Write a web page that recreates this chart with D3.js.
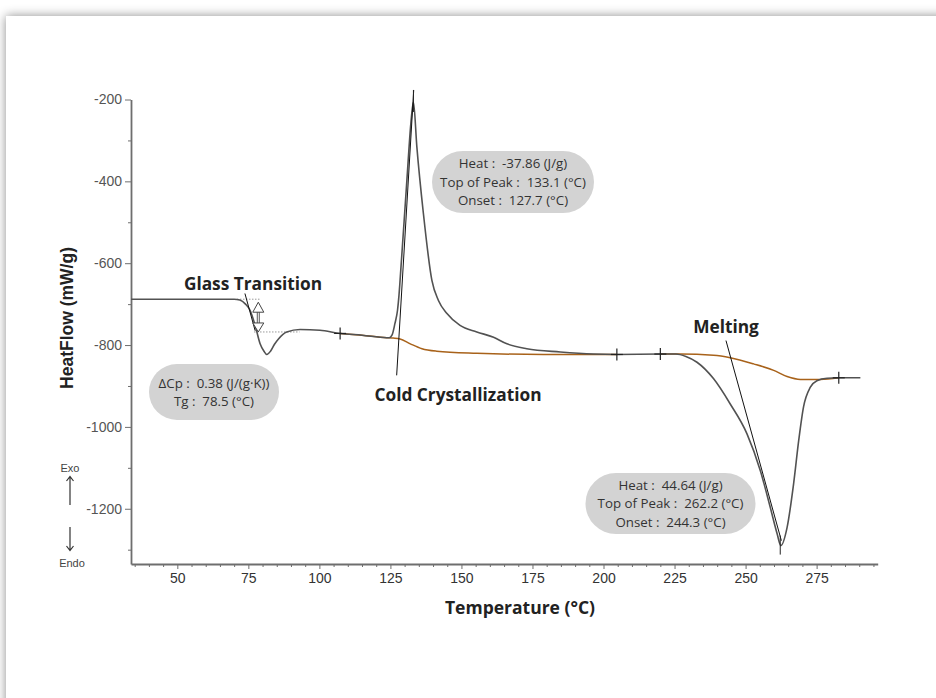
<!DOCTYPE html>
<html lang="en">
<head>
<meta charset="utf-8">
<title>DSC</title>
<script src="https://d3js.org/d3.v7.min.js"></script>
<style>
  body { margin: 0; background: #fff; overflow: hidden; }
  #card {
    position: absolute; left: 6px; top: 16px; width: 960px; height: 720px;
    background: #fff; box-shadow: 0 0 10px rgba(0, 0, 0, 0.45);
  }
  #chart { position: absolute; left: 0; top: 0; }
  .tick text { font-family: "Liberation Sans", Arial, sans-serif; font-size: 14px; }
  .note { font-family: "Open Sans", sans-serif; font-size: 13.3px; fill: #333; text-anchor: middle; white-space: pre; }
  .label { font-family: "Open Sans", sans-serif; font-size: 17.3px; font-weight: bold; fill: #222; text-anchor: middle; }
</style>
</head>
<body>
<div id="card"></div>
<div id="chart"></div>
<script>
// main DSC curve (temperature in °C, heat flow in mW/g)
const temps = [33.7, 60, 70, 72, 74, 75.6, 77.4, 79.1, 80.5, 81.5, 82.8, 84.2, 85.6, 88.5, 93.2, 100.2,
  107.3, 115, 123.7, 124.6, 125.6, 126.6, 127.5, 128, 128.4, 130.8, 132.2, 133.1, 134.3, 136.6, 139.6,
  141.9, 144.9, 149.5, 155.4, 161.3, 166, 173, 184.8, 196.5, 204.7, 220, 225.5, 229, 232.9, 238.7,
  244.6, 250.5, 255.2, 258.7, 261.1, 262.4, 264.6, 266.9, 268.7, 270.4, 272.8, 275.1, 278.7, 282.8, 290.4];
const heatFlow = [-688, -688, -688, -690, -700, -715, -752, -796, -815, -823, -815, -798, -785, -768, -762, -764,
  -771.6, -776, -782, -782, -775, -747, -715, -680, -642, -397, -258, -206, -315, -478, -642,
  -691, -723, -752, -768, -781, -797, -809, -817, -822, -823, -822, -822, -828, -842, -882,
  -944, -1017, -1107, -1197, -1261, -1290, -1246, -1139, -1033, -951, -903, -887, -881, -880, -880];

// integration baselines
const ccBaseT = [107.3, 115, 123.7, 126, 128.4, 132, 136.1, 141.3, 155.4, 178.9, 196.5, 204.7];
const ccBaseHF = [-771.6, -776, -782, -783, -785, -797, -809, -815, -820, -823, -823, -823];
const meltBaseT = [220, 227, 238.7, 244.6, 252.8, 259.9, 264.6, 269.3, 276.3, 282.8];
const meltBaseHF = [-822, -822, -825, -831, -846, -862, -877, -884, -884, -880];

// onset tangents [T, HF]
const ccTangent = [[127.2, -874], [133.2, -177]];
const meltTangent = [[243.1, -789], [262.6, -1278]];
const tgPointer = [[73.8, -674], [77.4, -765]];

// glass transition step
const tgTemp = 78.5;
const tgUpper = -688;
const tgLower = -768;
const tgUpperDots = [71, 79];
const tgLowerDots = [77, 93];

// range markers and peak tops
const rangeMarks = [107.3, 204.7, 220, 282.8];
const peakTops = [[133.1, -206], [262.2, -1290]];

const yMajor = [-200, -400, -600, -800, -1000, -1200];
const yMinor = [-300, -500, -700, -900, -1100, -1300];
const xMajor = [50, 75, 100, 125, 150, 175, 200, 225, 250, 275];
const xMinor = d3.range(35, 300, 5).filter(v => v % 25 !== 0);

const ccNote = ["Heat :  -37.86 (J/g)", "Top of Peak :  133.1 (°C)", "Onset :  127.7 (°C)"];
const meltNote = ["Heat :  44.64 (J/g)", "Top of Peak :  262.2 (°C)", "Onset :  244.3 (°C)"];
const tgNote = ["ΔCp :  0.38 (J/(g·K))", "Tg :  78.5 (°C)"];

const width = 936, height = 698;
const svg = d3.select("#chart").append("svg")
  .attr("width", width).attr("height", height);

const x = d3.scaleLinear().domain([33.7, 296.5]).range([131, 877.7]);
const y = d3.scaleLinear().domain([-1335, -200]).range([564, 99.5]);

const axisColor = "#6e6e6e";

// y axis
const gy = svg.append("g").attr("transform", "translate(131,0)")
  .call(d3.axisLeft(y).tickValues(yMajor).tickSize(6).tickSizeOuter(0).tickPadding(3).tickFormat(d => String(d)));
svg.append("g").attr("transform", "translate(131,0)")
  .call(d3.axisLeft(y).tickValues(yMinor).tickSize(3).tickSizeOuter(0).tickFormat(""))
  .select(".domain").remove();
gy.select(".domain").attr("stroke", axisColor).attr("stroke-width", 1.8);
svg.selectAll(".tick line").attr("stroke", axisColor);
gy.selectAll(".tick text").attr("fill", "#555");

// x axis
const gx = svg.append("g").attr("transform", "translate(0,564)")
  .call(d3.axisBottom(x).tickValues(xMajor).tickSize(5).tickSizeOuter(0).tickPadding(4));
const gxm = svg.append("g").attr("transform", "translate(0,564)")
  .call(d3.axisBottom(x).tickValues(xMinor).tickSize(3).tickSizeOuter(0).tickFormat(""));
gxm.select(".domain").remove();
gx.select(".domain").attr("stroke", axisColor).attr("stroke-width", 1.8);
svg.selectAll(".tick line").attr("stroke", axisColor);
gx.selectAll(".tick text").attr("fill", "#333");

// axis titles
svg.append("text")
  .attr("transform", "translate(73,318) rotate(-90)")
  .attr("text-anchor", "middle")
  .style("font-family", "'Liberation Sans', Arial, sans-serif")
  .style("font-weight", "bold").style("font-size", "17.5px").attr("fill", "#222")
  .text("HeatFlow (mW/g)");
svg.append("text").attr("class", "label")
  .attr("x", 520).attr("y", 614).style("font-size", "17.5px")
  .text("Temperature (°C)");

// Exo / Endo
svg.append("text").attr("x", 70).attr("y", 472).attr("text-anchor", "middle")
  .style("font-family", "'Liberation Sans', Arial, sans-serif").style("font-size", "11px").attr("fill", "#444")
  .text("Exo");
svg.append("text").attr("x", 72).attr("y", 567).attr("text-anchor", "middle")
  .style("font-family", "'Liberation Sans', Arial, sans-serif").style("font-size", "11px").attr("fill", "#444")
  .text("Endo");
svg.append("path").attr("d", "M70,505V477M66.5,481L70,476.5L73.5,481M70,527V550M66.5,546L70,550.5L73.5,546")
  .attr("fill", "none").attr("stroke", "#333").attr("stroke-width", 1.2);

const line = d3.line().x(d => x(d[0])).y(d => y(d[1])).curve(d3.curveMonotoneX);

// dotted step extensions
svg.append("g").selectAll("line")
  .data([[tgUpperDots, tgUpper], [tgLowerDots, tgLower]])
  .join("line")
  .attr("x1", d => x(d[0][0])).attr("x2", d => x(d[0][1]))
  .attr("y1", d => y(d[1])).attr("y2", d => y(d[1]))
  .attr("stroke", "#999").attr("stroke-width", 1).attr("stroke-dasharray", "1.5,1.5");

// baselines
svg.append("path").datum(ccBaseT.map((t, i) => [t, ccBaseHF[i]]))
  .attr("d", line).attr("fill", "none").attr("stroke", "#a8621a").attr("stroke-width", 1.5);
svg.append("path").datum(meltBaseT.map((t, i) => [t, meltBaseHF[i]]))
  .attr("d", line).attr("fill", "none").attr("stroke", "#a8621a").attr("stroke-width", 1.5);

// main curve
svg.append("path").datum(temps.map((t, i) => [t, heatFlow[i]]))
  .attr("d", line).attr("fill", "none").attr("stroke", "#525252").attr("stroke-width", 1.6);

// tangents and pointer
svg.append("g").selectAll("line")
  .data([ccTangent, meltTangent, tgPointer])
  .join("line")
  .attr("x1", d => x(d[0][0])).attr("y1", d => y(d[0][1]))
  .attr("x2", d => x(d[1][0])).attr("y2", d => y(d[1][1]))
  .attr("stroke", "#111").attr("stroke-width", 1);

// range markers
const hfAt = t => {
  const i = d3.bisectLeft(temps, t);
  if (i <= 0) return heatFlow[0];
  const t0 = temps[i - 1], t1 = temps[i];
  return heatFlow[i - 1] + (heatFlow[i] - heatFlow[i - 1]) * (t - t0) / (t1 - t0);
};
const marks = svg.append("g").attr("stroke", "#222").attr("stroke-width", 1.2);
rangeMarks.forEach(t => {
  const cx = x(t), cy = y(hfAt(t));
  marks.append("line").attr("x1", cx).attr("x2", cx).attr("y1", cy - 6).attr("y2", cy + 6);
  marks.append("line").attr("x1", cx - 6).attr("x2", cx + 6).attr("y1", cy).attr("y2", cy);
});
// peak tops
peakTops.forEach((p, i) => {
  const cx = x(p[0]), cy = y(p[1]);
  marks.append("line").attr("x1", cx).attr("x2", cx)
    .attr("y1", i === 0 ? cy - 12 : cy - 10).attr("y2", i === 0 ? cy + 10 : cy + 9)
    .attr("stroke-width", 1);
});

// glass transition step arrows
const tx = x(tgTemp), ty1 = y(tgUpper), ty2 = y(tgLower);
svg.append("path")
  .attr("d", `M${tx},${ty1 + 3}L${tx - 5.5},${ty1 + 13}L${tx + 5.5},${ty1 + 13}Z`)
  .attr("fill", "#fff").attr("stroke", "#444").attr("stroke-width", 1);
svg.append("path")
  .attr("d", `M${tx},${ty2}L${tx - 5.5},${ty2 - 9}L${tx + 5.5},${ty2 - 9}Z`)
  .attr("fill", "#fff").attr("stroke", "#444").attr("stroke-width", 1);
svg.append("path")
  .attr("d", `M${tx - 1},${ty1 + 13}V${ty2 - 9}M${tx + 1},${ty1 + 13}V${ty2 - 9}`)
  .attr("stroke", "#444").attr("stroke-width", 0.9);

// callouts
function callout(cx, top, w, h, lines, lineGap) {
  const g = svg.append("g");
  g.append("rect").attr("x", cx - w / 2).attr("y", top).attr("width", w).attr("height", h)
    .attr("rx", h / 2).attr("fill", "#d3d3d3");
  const first = top + h / 2 - (lines.length - 1) * lineGap / 2 + 4.7;
  g.selectAll("text").data(lines).join("text").attr("class", "note")
    .attr("x", cx).attr("y", (d, i) => first + i * lineGap).text(d => d);
}
callout(513, 151, 162, 62, ccNote, 18.4);
callout(670.5, 473, 170, 61, meltNote, 18.4);
callout(214, 364, 130, 56, tgNote, 17.7);

// event labels
svg.append("text").attr("class", "label").attr("x", 253).attr("y", 290).text("Glass Transition");
svg.append("text").attr("class", "label").attr("x", 458).attr("y", 401).text("Cold Crystallization");
svg.append("text").attr("class", "label").attr("x", 726).attr("y", 333).text("Melting");
</script>
</body>
</html>
